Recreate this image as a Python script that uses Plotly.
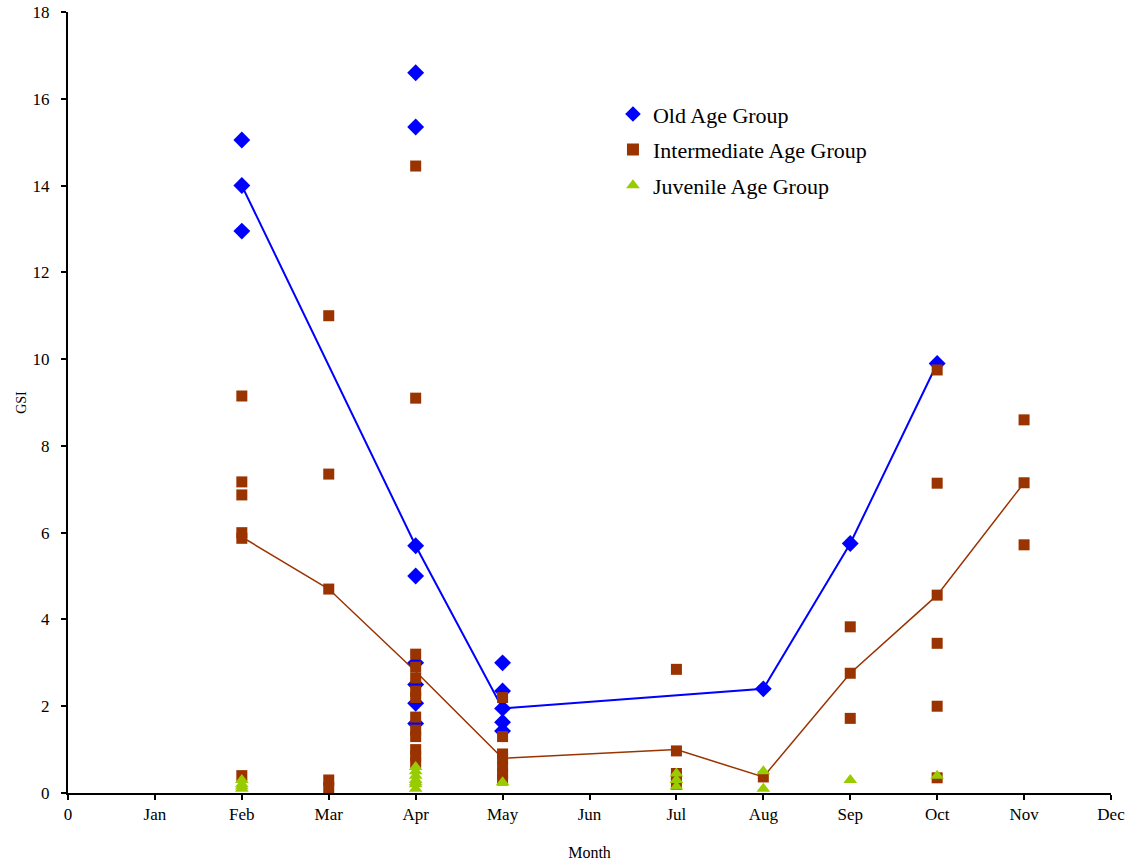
import plotly.graph_objects as go

month_ticks = [0, 1, 2, 3, 4, 5, 6, 7, 8, 9, 10, 11, 12]
month_labels = ["0", "Jan", "Feb", "Mar", "Apr", "May", "Jun", "Jul", "Aug", "Sep", "Oct", "Nov", "Dec"]

# Old age group (individual GSI values)
old_x = [2, 2, 2, 4, 4, 4, 4, 4, 4, 4, 4, 5, 5, 5, 5, 5, 8, 9, 10]
old_y = [15.05, 14.0, 12.95, 16.6, 15.35, 5.7, 5.0, 3.0, 2.5, 2.07, 1.6,
         3.0, 2.35, 1.95, 1.63, 1.43, 2.4, 5.75, 9.9]

# Intermediate age group
int_x = [2, 2, 2, 2, 2, 2,
         3, 3, 3, 3, 3,
         4, 4, 4, 4, 4, 4, 4, 4, 4, 4, 4, 4, 4,
         5, 5, 5, 5, 5, 5, 5,
         7, 7, 7, 7, 7,
         8,
         9, 9, 9,
         10, 10, 10, 10, 10, 10,
         11, 11, 11]
int_y = [9.15, 7.17, 6.87, 6.0, 5.87, 0.4,
         11.0, 7.35, 4.7, 0.3, 0.12,
         14.45, 9.1, 3.2, 2.9, 2.65, 2.35, 2.2, 1.75, 1.45, 1.3, 1.0, 0.85, 0.7,
         2.2, 1.3, 0.9, 0.8, 0.6, 0.45, 0.3,
         2.85, 0.97, 0.45, 0.35, 0.2,
         0.37,
         3.83, 2.76, 1.72,
         9.75, 7.14, 4.56, 3.45, 2.0, 0.35,
         8.6, 7.15, 5.72]

# Juvenile age group
juv_x = [2, 2, 2, 2, 4, 4, 4, 4, 4, 4, 4, 5, 7, 7, 7, 8, 8, 9, 10]
juv_y = [0.1, 0.2, 0.3, 0.15, 0.1, 0.2, 0.3, 0.4, 0.5, 0.6, 0.25, 0.25,
         0.15, 0.3, 0.45, 0.1, 0.5, 0.3, 0.4]

# Monthly mean lines
old_mean_x = [2, 4, 5, 8, 9, 10]
old_mean_y = [14.0, 5.7, 1.95, 2.4, 5.75, 9.9]
int_mean_x = [2, 3, 4, 5, 7, 8, 9, 10, 11]
int_mean_y = [5.9, 4.7, 2.8, 0.8, 1.0, 0.37, 2.76, 4.56, 7.15]

BLUE = "#0000FF"
BROWN = "#993300"
GREEN = "#99CC00"
FONT = "Liberation Serif"

fig = go.Figure()
fig.add_trace(go.Scatter(x=old_mean_x, y=old_mean_y, mode="lines",
                         line=dict(color=BLUE, width=2), showlegend=False, hoverinfo="skip"))
fig.add_trace(go.Scatter(x=int_mean_x, y=int_mean_y, mode="lines",
                         line=dict(color=BROWN, width=1.5), showlegend=False, hoverinfo="skip"))
fig.add_trace(go.Scatter(x=old_x, y=old_y, mode="markers", name="Old Age Group",
                         legendgroup="a",
                         marker=dict(symbol="diamond", color=BLUE, size=13)))
fig.add_trace(go.Scatter(x=int_x, y=int_y, mode="markers", name="Intermediate Age Group",
                         legendgroup="b",
                         marker=dict(symbol="square", color=BROWN, size=11)))
fig.add_trace(go.Scatter(x=juv_x, y=juv_y, mode="markers", name="Juvenile Age Group",
                         legendgroup="c",
                         marker=dict(symbol="triangle-up", color=GREEN, size=12)))

fig.update_layout(
    width=1128, height=864,
    margin=dict(l=68, r=17, t=12, b=71),
    paper_bgcolor="white", plot_bgcolor="white",
    font=dict(family=FONT, size=17, color="black"),
    legend=dict(x=0.5225, y=0.896, xanchor="left", yanchor="top",
                bgcolor="rgba(0,0,0,0)", font=dict(family=FONT, size=22),
                tracegroupgap=4, itemsizing="constant"),
    xaxis=dict(range=[0, 12], tickvals=month_ticks, ticktext=month_labels,
               automargin=False,
               showgrid=False, zeroline=False, showline=True, linecolor="black",
               linewidth=2, ticks="outside", ticklen=5, tickwidth=2, tickcolor="black",
               title=dict(text="Month", font=dict(family=FONT, size=16), standoff=23)),
    yaxis=dict(range=[0, 18], dtick=2, showgrid=False, zeroline=False, showline=True,
               automargin=False, ticklabelstandoff=8,
               linecolor="black", linewidth=2, ticks="outside", ticklen=5, tickwidth=2,
               tickcolor="black",
               title=dict(text="GSI", font=dict(family=FONT, size=14), standoff=3)),
)

fig.write_html("out.html",
               config={"displayModeBar": False},
               post_script="document.body.style.margin='0';document.body.style.overflow='hidden';")
